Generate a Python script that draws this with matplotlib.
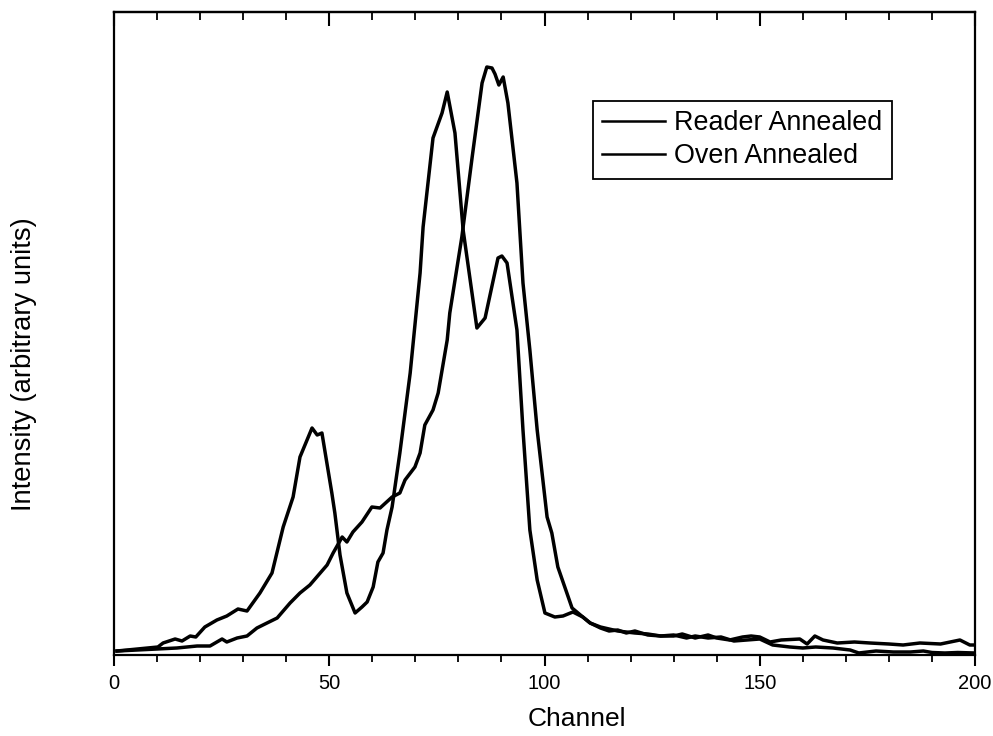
import matplotlib
matplotlib.use("Agg")
import matplotlib.pyplot as plt
from matplotlib.ticker import MultipleLocator

plt.rcParams['font.family'] = ['Liberation Sans', 'DejaVu Sans']

# Reader Annealed (two-peak glow curve)
reader_ch = [0.7, 10.2, 11.4, 14.2, 15.8, 17.7, 19.0, 21.1, 23.9, 26.2, 28.8, 30.9,
             33.9, 36.7, 39.3, 41.6, 43.2, 46.0, 47.2, 48.3, 50.6, 51.3, 52.5, 54.1,
             56.0, 57.6, 58.8, 60.2, 61.3, 62.5, 63.4, 64.6, 66.4, 68.8, 71.1, 71.8,
             74.1, 76.2, 77.4, 79.2, 81.1, 84.3, 86.2, 89.2, 90.1, 91.3, 93.6, 95.0,
             96.6, 98.3, 100.1, 102.4, 104.3, 106.6, 108.9, 110.6, 113, 115, 117, 119,
             121, 124, 127, 130, 133, 135, 138, 141, 144, 147, 150, 153, 157, 160,
             163, 167, 171, 173, 177, 181, 185, 188, 190, 193, 196, 200]
reader_i = [40, 80, 120, 160, 140, 190, 180, 280, 350, 390, 460, 440,
            620, 820, 1280, 1580, 1980, 2270, 2200, 2220, 1620, 1420, 1000, 620,
            420, 480, 530, 680, 930, 1020, 1250, 1480, 2020, 2820, 3820, 4280,
            5170, 5420, 5630, 5220, 4250, 3270, 3370, 3970, 3990, 3920, 3250, 2250,
            1250, 750, 420, 380, 390, 430, 380, 320, 270, 240, 250, 220,
            240, 200, 190, 200, 170, 190, 170, 180, 140, 150, 160, 100, 80, 70,
            80, 70, 50, 20, 40, 30, 30, 40, 25, 20, 25, 20]

# Oven Annealed (single main peak)
oven_ch = [0.7, 10.0, 14.6, 19.3, 22.3, 25.1, 26.2, 28.6, 30.9, 33.2, 34.6, 37.9,
           40.9, 43.2, 45.5, 47.9, 49.5, 50.9, 53.0, 54.1, 55.5, 57.6, 59.9, 61.8,
           64.6, 66.4, 67.6, 69.9, 71.1, 72.2, 74.1, 75.3, 77.4, 78.0, 80.8, 83.2,
           85.5, 86.6, 87.8, 88.5, 89.4, 90.4, 91.5, 93.6, 95.0, 96.6, 98.3, 100.6,
           101.7, 103.1, 106.4, 108.9, 110.6, 113, 115, 117, 119, 121, 124, 127,
           130, 132, 135, 138, 140, 143, 146, 148, 150, 152.4, 155, 159.3, 161,
           162.8, 164.7, 168, 172, 175.6, 180, 183.3, 187.2, 192, 196.5, 198.8, 200]
oven_i = [40, 60, 70, 90, 90, 160, 130, 170, 190, 270, 300, 370,
          520, 620, 700, 820, 900, 1020, 1180, 1130, 1230, 1330, 1480, 1470,
          1580, 1620, 1750, 1880, 2020, 2300, 2450, 2620, 3150, 3420, 4180, 4980,
          5720, 5880, 5870, 5810, 5700, 5780, 5520, 4720, 3720, 3050, 2250, 1380,
          1220, 880, 470, 380, 320, 280, 260, 240, 230, 220, 210, 190,
          190, 210, 170, 200, 170, 150, 180, 190, 180, 130, 150, 160, 110,
          190, 150, 120, 130, 120, 110, 100, 120, 110, 150, 100, 100]

x_ticks = [0, 50, 100, 150, 200]

fig = plt.figure(figsize=(9.93, 7.36), dpi=100)
ax = fig.add_axes([114/993, 1 - 655/736, (975-114)/993, (655-12)/736])

ax.plot(reader_ch, reader_i, color='black', lw=2.5, label='Reader Annealed')
ax.plot(oven_ch, oven_i, color='black', lw=2.5, label='Oven Annealed')

ax.set_xlim(0, 200)
ax.set_ylim(0, 6430)
ax.set_xticks(x_ticks)
ax.xaxis.set_minor_locator(MultipleLocator(10))
ax.set_yticks([])
ax.tick_params(axis='x', which='major', direction='out', length=8, width=1.5,
               labelsize=14.5, pad=6, top=False)
ax.tick_params(axis='x', which='minor', direction='out', length=5, width=1.3, top=False)
for s in ax.spines.values():
    s.set_linewidth(1.6)

top = ax.secondary_xaxis('top')
top.set_xticks(x_ticks)
top.xaxis.set_minor_locator(MultipleLocator(10))
top.tick_params(axis='x', which='major', direction='in', length=10, width=1.5, labeltop=False)
top.tick_params(axis='x', which='minor', direction='in', length=6, width=1.3)
top.spines['top'].set_linewidth(1.6)

ax.set_xlabel('Channel', fontsize=19)
ax.xaxis.set_label_coords(0.538, -0.081)
ax.set_ylabel('Intensity (arbitrary units)', fontsize=19.7)
ax.yaxis.set_label_coords(-0.0894, 0.452)

leg = ax.legend(loc='upper left', bbox_to_anchor=(593/993, 1 - 101/736),
                bbox_transform=fig.transFigure, borderaxespad=0,
                fontsize=19.4, frameon=True, fancybox=False, framealpha=1,
                edgecolor='black', handlelength=2.33, handletextpad=0.33,
                labelspacing=0.25, borderpad=0.35)
leg.get_frame().set_linewidth(1.3)
for h in leg.get_lines():
    h.set_linewidth(1.8)

fig.savefig('out.png', dpi=100)
